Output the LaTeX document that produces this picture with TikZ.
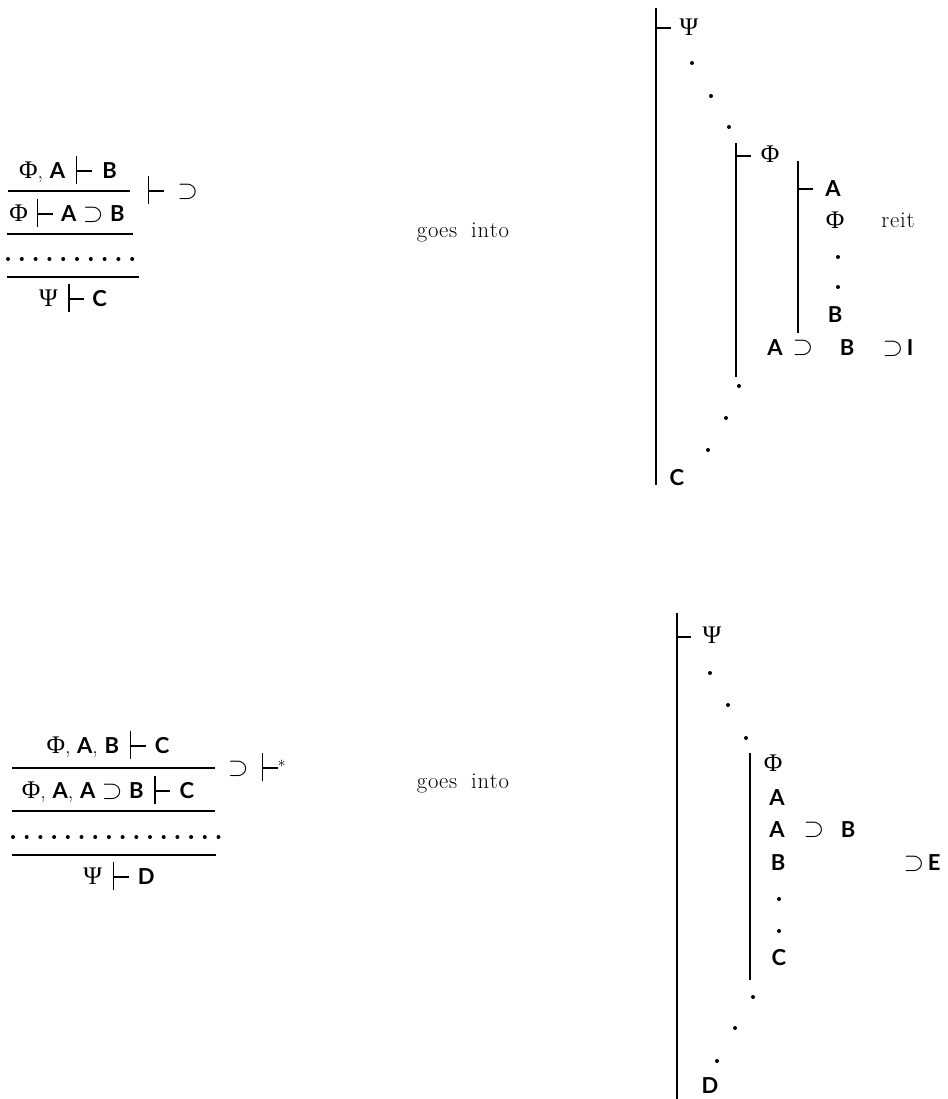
\documentclass[tikz,border=0pt]{standalone}
\usepackage{fontspec}
\newfontfamily\gsans{Lato}
\newfontfamily\gserif{Liberation Serif}
\newcommand{\sB}[1]{{\gsans\bfseries #1}}
\newcommand{\gk}[1]{{\gserif\fontsize{19}{20}\selectfont #1}}
\newcommand{\tst}{\rule[-4pt]{0.9pt}{21pt}\rule[5pt]{11pt}{1.3pt}}
\newcommand{\imp}{\scalebox{1.15}{$\supset$}}
\tikzset{every picture/.style={line width=0.75pt}}
\tikzset{
  txt/.style={inner sep=0pt, font=\fontsize{16.5}{18}\selectfont},
  word/.style={inner sep=0pt, font=\fontsize{17}{18}\selectfont},
  bar/.style={line width=1.1pt},
  pt/.style={fill=black, draw=none}
}

\begin{document}
\begin{tikzpicture}[x=0.75pt,y=0.75pt,yscale=-1,xscale=1]
\useasboundingbox (0,0) rectangle (948,1099);

%Text Node: first rule
\node[txt] (upA) at (68,170) {\gk{Φ}, \sB{A}\hspace{8pt}\tst\hspace{8pt}\sB{B}};
\node[txt] (loA) at (67,213) {\gk{Φ}\hspace{7pt}\tst\hspace{6pt}\sB{A} \imp\ \sB{B}};
\node[txt] (ruA) at (173,190) {\tst\ \ \imp};
\node[txt] (endA) at (73,298) {\gk{Ψ}\hspace{8pt}\tst\hspace{6pt}\sB{C}};
%Straight Lines
\draw[bar] (8,191) -- (130,191) ;
\draw[bar] (7,234) -- (133,234) ;
\draw[bar] (7,277) -- (139,277) ;
\foreach \i in {0,...,9} \fill[pt] (8+13.8*\i,259) circle (2) ;

%Text Node
\node[word] (goA) at (463,232) {g\kern.6pt o\kern.6pt e\kern.6pt s\ \ i\kern.6pt n\kern.6pt t\kern.6pt o};

%Shape: first Fitch proof
\draw[bar] (656,8) -- (656,485) ;
\draw[bar] (656,28) -- (671,28) ;
\node[txt] (psiA) at (689,27) {\gk{Ψ}};
\foreach \p in {(692,63),(711,96),(729,127)} \fill[pt] \p circle (2) ;
\draw[bar] (736,143) -- (736,377) ;
\draw[bar] (736,156) -- (751,156) ;
\node[txt] (phiA) at (770,154) {\gk{Φ}};
\draw[bar] (798,161) -- (798,333) ;
\draw[bar] (798,189) -- (813,189) ;
\node[txt] (hypA) at (833,189) {\sB{A}};
\node[txt] (phiB) at (835,220) {\gk{Φ}};
\node[word] (reit) at (898,220) {r\kern.6pt e\kern.6pt i\kern.6pt t};
\foreach \p in {(838,257),(838,287)} \fill[pt] \p circle (2) ;
\node[txt] (conB) at (835,315) {\sB{B}};
\node[txt] (impA) at (775,348) {\sB{A}};
\node[txt] (impS) at (803,348) {\imp};
\node[txt] (impB) at (847,348) {\sB{B}};
\node[txt] (impI) at (898,348) {\imp\,\sB{I}};
\foreach \p in {(739,386),(726,418),(708,450)} \fill[pt] \p circle (2) ;
\node[txt] (goalC) at (677,478) {\sB{C}};

%Text Node: second rule
\node[txt] (upB) at (108,745) {\gk{Φ}, \sB{A}, \sB{B}\hspace{8pt}\tst\hspace{7pt}\sB{C}};
\node[txt] (loB) at (108,790) {\gk{Φ}, \sB{A}, \sB{A} \imp\ \sB{B}\hspace{8pt}\tst\hspace{7pt}\sB{C}};
\node[txt] (ruB) at (257,767) {\imp\ \ \tst$^{*}$};
\node[txt] (endB) at (119,876) {\gk{Ψ}\hspace{8pt}\tst\hspace{7pt}\sB{D}};
%Straight Lines
\draw[bar] (12,768) -- (215,768) ;
\draw[bar] (12,811) -- (215,811) ;
\draw[bar] (12,855) -- (216,855) ;
\foreach \i in {0,...,15} \fill[pt] (13+13.7*\i,837) circle (2) ;

%Text Node
\node[word] (goB) at (463,783) {g\kern.6pt o\kern.6pt e\kern.6pt s\ \ i\kern.6pt n\kern.6pt t\kern.6pt o};

%Shape: second Fitch proof
\draw[bar] (677,613) -- (677,1099) ;
\draw[bar] (677,637) -- (691,637) ;
\node[txt] (psiB) at (712,635) {\gk{Ψ}};
\foreach \p in {(710,673),(728,705),(746,738)} \fill[pt] \p circle (2) ;
\draw[bar] (750,753) -- (750,980) ;
\node[txt] (phiC) at (773,763) {\gk{Φ}};
\node[txt] (hypB) at (777,798) {\sB{A}};
\node[txt] (hypAB) at (777,830) {\sB{A}};
\node[txt] (hypS) at (814,830) {\imp};
\node[txt] (hypBB) at (848,830) {\sB{B}};
\node[txt] (derB) at (778,863) {\sB{B}};
\node[txt] (elimE) at (922,863) {\imp\,\sB{E}};
\foreach \p in {(779,899),(779,931)} \fill[pt] \p circle (2) ;
\node[txt] (conC) at (779,958) {\sB{C}};
\foreach \p in {(753,997),(735,1028),(717,1061)} \fill[pt] \p circle (2) ;
\node[txt] (goalD) at (710,1086) {\sB{D}};

\end{tikzpicture}
\end{document}
